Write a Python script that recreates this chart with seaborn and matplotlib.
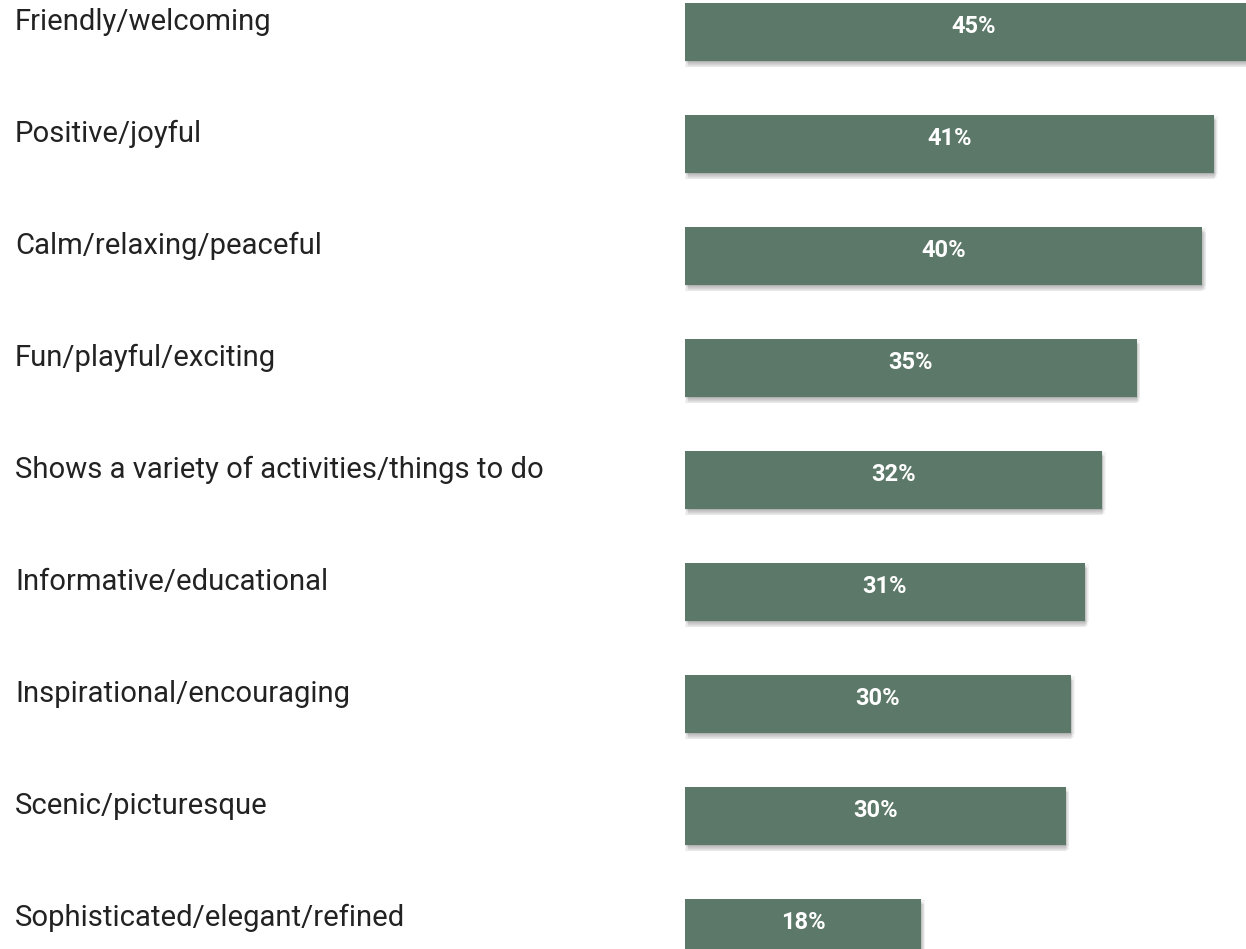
import matplotlib
matplotlib.use("Agg")
import matplotlib.pyplot as plt
import matplotlib.patheffects as pe
import seaborn as sns
import pandas as pd

categories = [
    "Friendly/welcoming",
    "Positive/joyful",
    "Calm/relaxing/peaceful",
    "Fun/playful/exciting",
    "Shows a variety of activities/things to do",
    "Informative/educational",
    "Inspirational/encouraging",
    "Scenic/picturesque",
    "Sophisticated/elegant/refined",
]
values = [45, 41, 40.1, 35, 32.3, 31, 29.9, 29.5, 18.3]
labels = ["45%", "41%", "40%", "35%", "32%", "31%", "30%", "30%", "18%"]

df = pd.DataFrame({"category": categories, "value": values})

sns.set_theme(style="white")
plt.rcParams["font.family"] = ["Roboto", "DejaVu Sans"]

W, H = 1246, 949
fig = plt.figure(figsize=(W / 100, H / 100), dpi=100)
fig.patch.set_facecolor("white")

# bar area occupies the right part of the canvas
left_px = 685
ax = fig.add_axes([left_px / W, 0, 1 - left_px / W, 1])
bar_color = "#5c7868"
sns.barplot(data=df, x="value", y="category", orient="h", color=bar_color,
            width=0.518, saturation=1, ax=ax)

# soft drop shadow built from several faint offset copies
shadow = [
    pe.SimplePatchShadow(offset=off, shadow_rgbFace="black", alpha=0.045)
    for off in [(0, -1), (0.6, -1.6), (1.2, -2.2), (1.8, -2.8),
                (2.4, -3.4), (1.0, -4.0), (0.0, -4.4), (2.8, -1.0)]
] + [pe.Normal()]
for p in ax.patches:
    p.set_edgecolor("none")
    p.set_path_effects(shadow)

px_per_unit = 12.9
ax.set_xlim(0, (W - left_px) / px_per_unit)
spacing = 112
first_center = 32
ax.set_ylim((H - first_center) / spacing, -first_center / spacing)
ax.axis("off")

# value labels centred on each bar (the visible part for clipped bars)
xmax = ax.get_xlim()[1]
for i, (v, lab) in enumerate(zip(values, labels)):
    cx = min(v, xmax + 1.2) / 2
    ax.text(cx, i - 0.045, lab, ha="center", va="center", color="white",
            fontsize=17, fontweight="bold")

# category labels on the left
for i, cat in enumerate(categories):
    y_px = first_center + spacing * i - 10
    fig.text(15 / W, 1 - y_px / H, cat, ha="left", va="center",
             fontsize=21.1, color="#222222")

fig.savefig("out.png", dpi=100, facecolor="white")
